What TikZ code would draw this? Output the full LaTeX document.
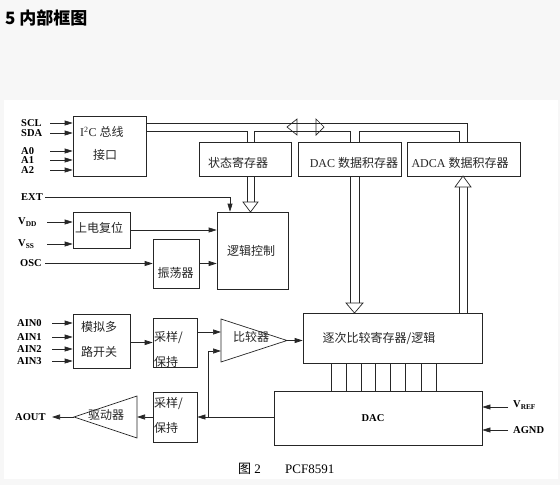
\documentclass[tikz,border=0pt]{standalone}
\usepackage{fontspec}
\setmainfont{Liberation Serif}
\newfontfamily\cjk{Noto Sans CJK SC}
\usetikzlibrary{arrows.meta,calc}
\begin{document}
\begin{tikzpicture}[x=1pt,y=-1pt,
  ln/.style={draw=black!85, line width=0.7pt},
  arr/.style={ln, -{Triangle[length=8pt,width=5pt]}},
  blk/.style={ln, inner sep=0pt},
  cn/.style={font=\cjk\fontsize{12}{14}\selectfont, text=black!85, inner sep=0pt},
  lbl/.style={font=\bfseries\fontsize{10.5}{10.5}\selectfont, inner sep=0pt, anchor=west},
  hollow/.style={ln, fill=white, line join=miter}]
\useasboundingbox (0,0) rectangle (560,485);
\fill[black!3] (0,0) rectangle (560,485);
\fill[white] (4,100) rectangle (558,479);

% title
\node[anchor=west, inner sep=0pt, font=\cjk\bfseries\fontsize{17}{19}\selectfont] (title) at (5,18) {5 内部框图};

% boxes
\node[blk, minimum width=73pt, minimum height=60pt] (i2c) at (109.5,146) {};
\node[blk, minimum width=92pt, minimum height=34pt] (status) at (245,159) {};
\node[blk, minimum width=103pt, minimum height=34pt] (dacreg) at (349.5,159) {};
\node[blk, minimum width=113pt, minimum height=34pt] (adcareg) at (463.5,159) {};
\node[blk, minimum width=57pt, minimum height=36pt] (por) at (101.5,230) {};
\node[blk, minimum width=46pt, minimum height=49pt] (osc) at (176,263.5) {};
\node[blk, minimum width=71pt, minimum height=77pt] (logic) at (252.5,250.5) {};
\node[blk, minimum width=57pt, minimum height=54pt] (mux) at (101.5,341) {};
\node[blk, minimum width=44pt, minimum height=49pt] (sh1) at (175,342.5) {};
\node[blk, minimum width=179pt, minimum height=50pt] (sar) at (392.5,338) {};
\node[blk, minimum width=44pt, minimum height=50pt] (sh2) at (175,417) {};
\node[blk, minimum width=208pt, minimum height=54pt] (dac) at (378,418) {};

% triangles
\coordinate (cl1) at (221,319);
\coordinate (cl2) at (221,362);
\coordinate (ctip) at (287,340.5);
\draw[ln, line join=miter] (cl1) -- (ctip) -- (cl2) -- cycle;
\coordinate (dr1) at (137,396);
\coordinate (dr2) at (137,438);
\coordinate (dtip) at (74,417);
\draw[ln, line join=miter] (dr1) -- (dtip) -- (dr2) -- cycle;

% box texts
\node[cn, anchor=west] (i2ct1) at (80,132) {\rmfamily I\textsuperscript{2}C \cjk 总线};
\node[cn] (i2ct2) at (105,155) {接口};
\node[cn] (statust) at (238,163) {状态寄存器};
\node[cn] (dacregt) at (354,163) {\rmfamily DAC \cjk 数据积存器};
\node[cn] (adcaregt) at (460,163) {\rmfamily ADCA \cjk 数据积存器};
\node[cn] (port) at (99,228) {上电复位};
\node[cn] (osct) at (175.5,273) {振荡器};
\node[cn] (logict) at (251,251) {逻辑控制};
\node[cn] (muxt1) at (99,327) {模拟多};
\node[cn] (muxt2) at (99,352) {路开关};
\node[cn, anchor=west] (sh1t1) at (154,338) {采样/};
\node[cn, anchor=west] (sh1t2) at (154,362) {保持};
\node[cn] (compt) at (251,337) {比较器};
\node[cn] (sart) at (379,338) {逐次比较寄存器/逻辑};
\node[cn] (drvt) at (106,415) {驱动器};
\node[cn, anchor=west] (sh2t1) at (154,404) {采样/};
\node[cn, anchor=west] (sh2t2) at (154,428) {保持};
\node[inner sep=0pt, font=\bfseries\fontsize{10.5}{10.5}\selectfont] (dact) at (373,418) {DAC};

% pin labels
\node[lbl] (scl) at (21,123) {SCL};
\node[lbl] (sda) at (21,133) {SDA};
\node[lbl] (a0) at (21,151) {A0};
\node[lbl] (a1) at (21,160) {A1};
\node[lbl] (a2) at (21,170) {A2};
\node[lbl] (ext) at (21,197) {EXT};
\node[lbl] (vdd) at (18,222) {V\textsubscript{DD}};
\node[lbl] (vss) at (18,244) {V\textsubscript{SS}};
\node[lbl] (oscl) at (20,263.5) {OSC};
\node[lbl] (ain0) at (17,323) {AIN0};
\node[lbl] (ain1) at (17,337) {AIN1};
\node[lbl] (ain2) at (17,349) {AIN2};
\node[lbl] (ain3) at (17,361) {AIN3};
\node[lbl] (aout) at (15,417) {AOUT};
\node[lbl] (vref) at (513,405) {V\textsubscript{REF}};
\node[lbl] (agnd) at (513,430) {AGND};

% caption
\node[anchor=west, inner sep=0pt, font=\fontsize{13}{15}\selectfont] (cap1) at (238,469) {{\cjk 图} 2};
\node[anchor=west, inner sep=0pt, font=\fontsize{13}{15}\selectfont] (cap2) at (285,469) {PCF8591};

% input arrows
\coordinate (sclin) at (50,123);
\coordinate (sdain) at (50,133);
\coordinate (a0in) at (50,151);
\coordinate (a1in) at (50,160);
\coordinate (a2in) at (50,170);
\foreach \p in {sclin,sdain,a0in,a1in,a2in} \draw[arr] (\p) -- (\p -| i2c.west);
\coordinate (extin) at (45,197);
\coordinate (extc) at (230,197);
\draw[arr] (extin) -- (extc) -- (extc |- logic.north);
\coordinate (vddin) at (47,222);
\coordinate (vssin) at (47,244);
\draw[arr] (vddin) -- (vddin -| por.west);
\draw[arr] (vssin) -- (vssin -| por.west);
\coordinate (oscin) at (45,263.5);
\draw[arr] (oscin) -- (osc.west);
\draw[arr] (por.east) -- (por.east -| logic.west);
\draw[arr] (osc.east) -- (osc.east -| logic.west);

\coordinate (ain0in) at (52,323);
\coordinate (ain1in) at (52,337);
\coordinate (ain2in) at (52,349);
\coordinate (ain3in) at (52,361);
\foreach \p in {ain0in,ain1in,ain2in,ain3in} \draw[arr] (\p) -- (\p -| mux.west);
\draw[arr] (mux.east |- sh1.west) -- (sh1.west);
\coordinate (cin1) at (221,332);
\coordinate (cin2) at (221,351);
\draw[arr] (sh1.east |- cin1) -- (cin1);
\draw[arr] (ctip) -- (ctip -| sar.west);
\draw[arr] (dac.west |- sh2.east) -- (sh2.east);
\coordinate (jn) at (208,417);
\draw[arr] (jn) -- (jn |- cin2) -- (cin2);
\draw[arr] (sh2.west) -- (sh2.west -| dr1);
\coordinate (aoutc) at (52,417);
\draw[arr] (dtip) -- (aoutc);
\coordinate (vrefin) at (508,407);
\coordinate (agndin) at (508,430);
\draw[arr] (vrefin) -- (vrefin -| dac.east);
\draw[arr] (agndin) -- (agndin -| dac.east);

% SAR to DAC data lines
\foreach \x in {331,346,361,375,390,405,421,436}
  \draw[ln] (sar.south -| \x,0) -- (dac.north -| \x,0);

% I2C bus
\draw[ln] (i2c.east |- 0,123) -- (467,123) -- (adcareg.north -| 467,0);
\draw[ln] (i2c.east |- 0,131) -- (247,131) -- (status.north -| 247,0);
\draw[ln] (status.north -| 254,0) -- (254,131) -- (350,131) -- (dacreg.north -| 350,0);
\draw[ln] (dacreg.north -| 359,0) -- (359,131) -- (459,131) -- (adcareg.north -| 459,0);
\draw[ln, line join=miter] (287,127) -- (297,119) -- (297,135) -- cycle;
\draw[ln, line join=miter] (324,127) -- (316,119) -- (316,135) -- cycle;

% wide (hollow) arrows
\draw[ln] (status.south -| 247,0) -- (247,202);
\draw[ln] (status.south -| 254,0) -- (254,202);
\draw[hollow] (243,202) -- (258,202) -- (250.5,212) -- cycle;
\draw[ln] (dacreg.south -| 350,0) -- (350,303);
\draw[ln] (dacreg.south -| 359,0) -- (359,303);
\draw[hollow] (346,303) -- (363,303) -- (354.5,313) -- cycle;
\draw[ln] (sar.north -| 459,0) -- (459,187);
\draw[ln] (sar.north -| 467,0) -- (467,187);
\draw[hollow] (455,187) -- (471,187) -- (463,176) -- cycle;
\end{tikzpicture}
\end{document}
